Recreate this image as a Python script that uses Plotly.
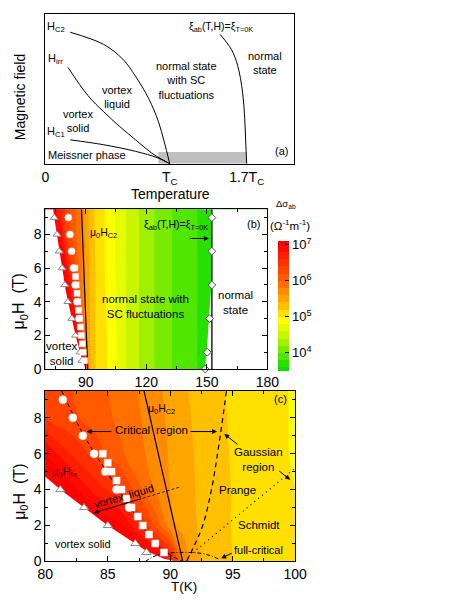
import plotly.graph_objects as go

FONT = "Liberation Sans, Arial, sans-serif"
NB = "\u00a0"

# ---------------- Panel (a): schematic phase diagram ----------------
a_hc2_T = [0.2, 0.469, 0.623, 0.723, 0.831, 0.908, 0.954, 1.0]
a_hc2_H = [0.877, 0.796, 0.697, 0.586, 0.434, 0.283, 0.151, 0.0]
a_hirr_T = [0.182, 0.341, 0.469, 0.598, 0.725, 0.854, 1.0]
a_hirr_H = [0.643, 0.456, 0.347, 0.248, 0.160, 0.072, 0.0]
a_hc1_T = [0.2, 0.469, 0.725, 0.905, 1.0]
a_hc1_H = [0.160, 0.127, 0.083, 0.039, 0.0]
a_xi_T = [1.405, 1.495, 1.546, 1.585, 1.602, 1.610, 1.618]
a_xi_H = [0.862, 0.763, 0.653, 0.478, 0.303, 0.149, 0.0]
a_band_T = [0.908, 1.618]
a_band_H = [0.0, 0.079]
a_tick_vals = [0, 1.0, 1.618]
a_tick_text = ["0", "T<sub>C</sub>", "1.7T<sub>C</sub>"]

# ---------------- Panels (b), (c): log10 of fluctuation conductivity ----------------
T_grid = [70, 78, 80, 82, 84, 86, 88, 89, 90, 91, 92, 95, 100, 110, 120, 135, 150, 180]
H_grid = [0, 2, 4, 6, 8, 9.5]
logsig_H0 = [8.0, 7.8, 7.7, 7.6, 7.5, 7.4, 7.3, 7.2, 6.8, 5.8, 5.44, 5.2, 5.03, 4.6, 4.29, 3.95, 3.73, 3.5]
logsig_H2 = [8.0, 7.6, 7.5, 7.4, 7.25, 7.05, 6.47, 6.08, 5.66, 5.53, 5.41, 5.19, 5.02, 4.6, 4.29, 3.95, 3.73, 3.5]
logsig_H4 = [7.8, 7.4, 7.25, 7.1, 6.72, 6.45, 5.95, 5.74, 5.59, 5.5, 5.4, 5.19, 5.0, 4.6, 4.29, 3.95, 3.73, 3.5]
logsig_H6 = [7.5, 7.2, 7.0, 6.6, 6.32, 6.04, 5.8, 5.69, 5.58, 5.48, 5.39, 5.18, 4.98, 4.6, 4.29, 3.95, 3.73, 3.5]
logsig_H8 = [7.3, 6.9, 6.4, 6.25, 6.11, 5.95, 5.77, 5.66, 5.56, 5.46, 5.37, 5.17, 4.98, 4.6, 4.29, 3.95, 3.73, 3.5]
logsig_H95 = [7.2, 6.6, 6.37, 6.21, 6.08, 5.93, 5.74, 5.64, 5.54, 5.44, 5.35, 5.16, 4.98, 4.6, 4.29, 3.95, 3.73, 3.5]

# irreversibility line (triangles) and white vortex-solid boundary
irr_T = [74.4, 75.8, 76.9, 78.3, 79.7, 81.2, 83.1, 85.0, 87.2, 88.1]
irr_H = [9, 8, 7, 6, 5, 4, 3, 2, 1, 0.5]
solid_edge_T = [73.9, 74.4, 75.8, 76.9, 78.3, 79.7, 80.0, 81.2, 83.1, 85.0, 87.2, 88.1, 89.5, 90.5]
solid_edge_H = [9.5, 9, 8, 7, 6, 5, 4.72, 4.0, 3.0, 2.0, 1.0, 0.58, 0.15, 0]
# circles and squares
circ_T = [81.4, 82.2, 83.0, 83.9, 84.8, 85.7, 86.7]
circ_H = [9, 8, 7, 6, 5, 4, 3]
sq_T = [84.6, 85.0, 85.3, 85.7, 86.1, 86.5, 86.9, 87.4, 87.8, 88.3, 88.8, 89.5]
sq_H = [6, 5.5, 5, 4.5, 4, 3.5, 3, 2.5, 2, 1.5, 1, 0.5]
# xi_ab(T,H) = xi_T=0K  (diamonds) and edge of fluctuation region
xi_T = [152.5, 152.5, 152.5, 151.3, 150.2, 149.2]
xi_H = [9, 7, 5, 3, 1, 0]
xi_edge_T = [152.5, 152.5, 152.5, 152.5, 151.3, 150.2, 149.2]
xi_edge_H = [9.5, 9, 7, 5, 3, 1, 0]
xi_line_T = [152.5, 152.5]
# upper critical field line
hc2_T = [91.0, 87.9]
hc2_H = [0, 9.5]
# critical region boundaries
crit_low_T = [81.3, 83.1, 84.9, 86.8, 88.6, 89.7, 91.0]
crit_low_H = [9.5, 7, 5, 3, 1.2, 0.5, 0]
crit_high_T = [91.3, 92.0, 92.6, 93.3, 94.0, 94.5]
crit_high_H = [0, 1, 2, 4, 7, 9.5]
schmidt_T = [91.5, 100]
schmidt_H = [0.3, 5.2]
full_T = [88.0, 88.6, 89.3, 90.5, 91.5, 92.5, 93.3, 94.0]
full_H = [0, 0.25, 0.42, 0.5, 0.5, 0.45, 0.3, 0.1]

logsig = [logsig_H0, logsig_H2, logsig_H4, logsig_H6, logsig_H8, logsig_H95]

# colour scale: band colours at level mid-points (contours 3.6..7.0 step 0.2)
band_mid = [3.5, 3.7, 3.9, 4.1, 4.3, 4.5, 4.7, 4.9, 5.1, 5.3, 5.5, 5.7, 5.9, 6.1, 6.3, 6.5, 6.7, 6.9, 7.1]
band_col = ["#10DC00", "#28E000", "#50E600", "#78EB00", "#A0F000", "#C8F500", "#E6FA00", "#FFFF00",
            "#FFE000", "#FFC000", "#FFA500", "#FF8C00", "#FF7000", "#FF5A00", "#FF4500", "#FF3000",
            "#FF1E00", "#FF0A00", "#FF0000"]
cscale = [[(z - band_mid[0]) / (band_mid[-1] - band_mid[0]), c] for z, c in zip(band_mid, band_col)]

W, Hh = 468, 605
def px_x(p): return p / W
def px_y(p): return 1 - p / Hh

fig = go.Figure()

# ---- (a)
fig.add_trace(go.Scatter(x=[a_band_T[0], a_band_T[1], a_band_T[1], a_band_T[0]],
                         y=[a_band_H[0], a_band_H[0], a_band_H[1], a_band_H[1]],
                         fill="toself", fillcolor="#C0C0C0", line=dict(width=0),
                         mode="lines", xaxis="x", yaxis="y", hoverinfo="skip"))
for xs, ys in [(a_hc2_T, a_hc2_H), (a_hirr_T, a_hirr_H), (a_hc1_T, a_hc1_H), (a_xi_T, a_xi_H)]:
    fig.add_trace(go.Scatter(x=xs, y=ys, mode="lines", line=dict(color="black", width=1, shape="spline"),
                             xaxis="x", yaxis="y"))

# ---- (b) and (c) contour maps
for xa, ya, show in [("x2", "y2", True), ("x3", "y3", False)]:
    fig.add_trace(go.Contour(
        x=T_grid, y=H_grid, z=logsig, xaxis=xa, yaxis=ya,
        colorscale=cscale, autocontour=False,
        contours=dict(start=3.6, end=7.0, size=0.2, coloring="fill", showlines=False),
        line=dict(width=0), showscale=show, hoverinfo="skip",
        colorbar=dict(x=px_x(282), xanchor="left", xpad=0, ypad=0,
                      y=px_y(310), yanchor="middle",
                      lenmode="pixels", len=130, thicknessmode="pixels", thickness=11,
                      outlinewidth=0, ticks="inside", ticklen=4, tickcolor="black",
                      tickvals=[4, 5, 6, 7],
                      ticktext=["10<sup>4</sup>", "10<sup>5</sup>", "10<sup>6</sup>", "10<sup>7</sup>"],
                      tickfont=dict(size=13, color="black", family=FONT)) if show else None))
    # white vortex-solid region
    fig.add_trace(go.Scatter(x=[60] + solid_edge_T + [60], y=[solid_edge_H[0]] + solid_edge_H + [0],
                             fill="toself", fillcolor="white", line=dict(width=0, color="white"),
                             mode="lines", xaxis=xa, yaxis=ya, hoverinfo="skip"))
    # white normal-state region
    fig.add_trace(go.Scatter(x=xi_edge_T + [190, 190], y=xi_edge_H + [0, 9.5],
                             fill="toself", fillcolor="white", line=dict(width=1, color="white"),
                             mode="lines", xaxis=xa, yaxis=ya, hoverinfo="skip"))
    fig.add_trace(go.Scatter(x=hc2_T, y=hc2_H, mode="lines", line=dict(color="black", width=1.2),
                             xaxis=xa, yaxis=ya))

# (b) xi line and diamonds
fig.add_trace(go.Scatter(x=xi_line_T, y=[0, 9.5], mode="lines", line=dict(color="black", width=1.3),
                         xaxis="x2", yaxis="y2"))
fig.add_trace(go.Scatter(x=xi_T, y=xi_H, mode="markers",
                         marker=dict(symbol="diamond", size=6, color="white", line=dict(color="#555", width=1)),
                         xaxis="x2", yaxis="y2", cliponaxis=False))

# (c) critical-region lines
fig.add_trace(go.Scatter(x=crit_low_T, y=crit_low_H, mode="lines",
                         line=dict(color="black", width=1, dash="4px,3px", shape="spline"), xaxis="x3", yaxis="y3"))
fig.add_trace(go.Scatter(x=crit_high_T, y=crit_high_H, mode="lines",
                         line=dict(color="black", width=1.2, dash="5px,4px", shape="spline"), xaxis="x3", yaxis="y3"))
fig.add_trace(go.Scatter(x=schmidt_T, y=schmidt_H, mode="lines",
                         line=dict(color="black", width=1.2, dash="1px,4px"), xaxis="x3", yaxis="y3"))
fig.add_trace(go.Scatter(x=full_T, y=full_H, mode="lines",
                         line=dict(color="black", width=1, dash="4px,2px,1px,2px", shape="spline"), xaxis="x3", yaxis="y3"))
fig.add_trace(go.Scatter(x=[87.8, 90.8], y=[3.52, 4.15], mode="lines",
                         line=dict(color="black", width=0.8, dash="3px,2px"), xaxis="x3", yaxis="y3"))

# markers on (b) and (c)
for xa, ya, ms in [("x2", "y2", 7), ("x3", "y3", 8)]:
    fig.add_trace(go.Scatter(x=irr_T, y=irr_H, mode="markers",
                             marker=dict(symbol="triangle-up", size=ms, color="white", line=dict(color="#888", width=1)),
                             xaxis=xa, yaxis=ya, cliponaxis=False))
    fig.add_trace(go.Scatter(x=sq_T, y=sq_H, mode="markers",
                             marker=dict(symbol="square", size=ms - 1, color="white", line=dict(color="#eee", width=0.5)),
                             xaxis=xa, yaxis=ya))
    fig.add_trace(go.Scatter(x=circ_T, y=circ_H, mode="markers",
                             marker=dict(symbol="circle", size=ms, color="white", line=dict(color="#eee", width=0.5)),
                             xaxis=xa, yaxis=ya))

def frame_axis(**kw):
    d = dict(showline=True, linecolor="black", linewidth=1, mirror="ticks", ticks="inside",
             ticklen=5, tickwidth=1, tickcolor="black", showgrid=False, zeroline=False,
             tickfont=dict(size=14, color="black", family=FONT))
    d.update(kw)
    return d

annotations = []
def txt(t, x, y, xr, yr, size=11, **kw):
    d = dict(text=t, x=x, y=y, xref=xr, yref=yr, showarrow=False, xanchor="center", yanchor="middle",
             font=dict(size=size, color="black", family=FONT))
    d.update(kw)
    annotations.append(d)

def arrow(x, y, ax, ay, xr, yr, color="black"):
    annotations.append(dict(text="", x=x, y=y, ax=ax, ay=ay, xref=xr, yref=yr, axref=xr, ayref=yr,
                            showarrow=True, arrowhead=2, arrowsize=1, arrowwidth=1, arrowcolor=color))

# (a) texts
txt("H<sub>C2</sub>", 0.085, 0.914, "x", "y", 11)
txt("H<sub>irr</sub>", 0.085, 0.697, "x", "y", 11)
txt("H<sub>C1</sub>", 0.085, 0.215, "x", "y", 11)
txt("vortex<br>solid", 0.262, 0.286, "x", "y", 11)
txt("vortex<br>liquid", 0.572, 0.447, "x", "y", 11)
txt("normal state<br>with SC<br>fluctuations", 1.136, 0.553, "x", "y", 11)
txt("ξ<sub>ab</sub>(T,H)=ξ<sub>T=0K</sub>", 1.415, 0.914, "x", "y", 10.5)
txt("normal<br>state", 1.765, 0.672, "x", "y", 11)
txt("Meissner phase", 0.338, 0.059, "x", "y", 11)
txt("(a)", 1.9, 0.085, "x", "y", 11)
txt("Temperature", px_x(170), px_y(197), "paper", "paper", 14)
txt("Magnetic field", px_x(12), px_y(98), "paper", "paper", 14, textangle=-90)

# (b) texts
txt("μ<sub>0</sub>H<sub>C2</sub>", 91.3, 8.1, "x2", "y2", 10.5, xanchor="left")
txt("ξ<sub>ab</sub>(T,H)=ξ<sub>T=0K</sub>", 134.7, 8.55, "x2", "y2", 10.5)
arrow(151.0, 7.76, 141.0, 7.76, "x2", "y2")
txt("normal state with<br>SC fluctuations", 119.8, 3.7, "x2", "y2", 11.5)
txt("normal<br>state", 164.4, 3.97, "x2", "y2", 11.5)
txt("vortex<br>solid", 78.4, 0.94, "x2", "y2", 11.5)
txt("(b)", 172.9, 8.6, "x2", "y2", 11)
txt("μ<sub>0</sub>H" + NB * 2 + "(T)", px_x(13), px_y(305), "paper", "paper", 16, textangle=-90)
txt("Δσ<sub>ab</sub>", px_x(290), px_y(207), "paper", "paper", 9.5)
txt("(Ω<sup>-1</sup>m<sup>-1</sup>)", px_x(295), px_y(228), "paper", "paper", 11.5)

# (c) texts
txt("μ<sub>0</sub>H<sub>C2</sub>", 88.05, 8.5, "x3", "y3", 10.5, xanchor="left")
txt("μ<sub>0</sub>H<sub>irr</sub>", 81.6, 5.0, "x3", "y3", 11, font=dict(size=11, color="#4a0000", family=FONT))
txt("Critical", 86.97, 7.29, "x3", "y3", 11.5)
txt("region", 90.17, 7.29, "x3", "y3", 11.5)
arrow(83.3, 7.23, 85.4, 7.23, "x3", "y3")
arrow(93.75, 7.23, 91.5, 7.23, "x3", "y3")
txt("Gaussian<br>region", 97.1, 5.67, "x3", "y3", 11.5)
arrow(94.33, 7.1, 95.5, 6.45, "x3", "y3")
arrow(99.6, 4.55, 98.6, 5.1, "x3", "y3")
txt("Prange", 95.35, 4.0, "x3", "y3", 11.5)
txt("Schmidt", 97.1, 2.05, "x3", "y3", 11.5)
txt("full-critical", 97.05, 0.64, "x3", "y3", 11)
arrow(94.07, 0.18, 95.05, 0.5, "x3", "y3")
txt("vortex solid", 83.0, 0.95, "x3", "y3", 11)
txt("vortex" + NB * 2 + "liquid", 86.3, 3.66, "x3", "y3", 11, textangle=-16)
arrow(83.85, 2.7, 87.8, 3.52, "x3", "y3")
txt("(c)", 98.85, 9.03, "x3", "y3", 11)
txt("T(K)", px_x(184), px_y(594), "paper", "paper", 13.5)
txt("μ<sub>0</sub>H" + NB * 2 + "(T)", px_x(13), px_y(498), "paper", "paper", 16, textangle=-90)

fig.update_layout(
    width=W, height=Hh, margin=dict(l=0, r=0, t=0, b=0),
    paper_bgcolor="white", plot_bgcolor="white", showlegend=False,
    font=dict(family=FONT, color="black"),
    xaxis=dict(domain=[px_x(39), px_x(299)], range=[0, 2], anchor="y",
               showline=True, linecolor="black", linewidth=1.2, mirror=True, ticks="",
               tickvals=a_tick_vals, ticktext=a_tick_text, showgrid=False, zeroline=False,
               tickfont=dict(size=14, color="black", family=FONT)),
    yaxis=dict(domain=[px_y(166), px_y(14)], range=[0, 1], anchor="x",
               showline=True, linecolor="black", linewidth=1.2, mirror=True, ticks="",
               showticklabels=False, showgrid=False, zeroline=False),
    xaxis2=frame_axis(domain=[px_x(39), px_x(271)], range=[70, 180], anchor="y2",
                      tickvals=[90, 120, 150, 180],
                      minor=dict(ticks="inside", ticklen=3, tickvals=[75, 105, 135, 165], showgrid=False)),
    yaxis2=frame_axis(domain=[px_y(374), px_y(212)], range=[0, 9.5], anchor="x2",
                      tickvals=[0, 2, 4, 6, 8],
                      minor=dict(ticks="inside", ticklen=3, tickvals=[1, 3, 5, 7, 9], showgrid=False)),
    xaxis3=frame_axis(domain=[px_x(39), px_x(300)], range=[80, 100], anchor="y3",
                      tickvals=[80, 85, 90, 95, 100],
                      minor=dict(ticks="inside", ticklen=3, tickvals=[82.5, 87.5, 92.5, 97.5], showgrid=False)),
    yaxis3=frame_axis(domain=[px_y(569), px_y(396)], range=[0, 9.5], anchor="x3",
                      tickvals=[0, 2, 4, 6, 8],
                      minor=dict(ticks="inside", ticklen=3, tickvals=[1, 3, 5, 7, 9], showgrid=False)),
    annotations=annotations,
)

fig.write_html("out.html", config={"displayModeBar": False},
               post_script="document.body.style.margin='0px';document.body.style.overflow='hidden';")
